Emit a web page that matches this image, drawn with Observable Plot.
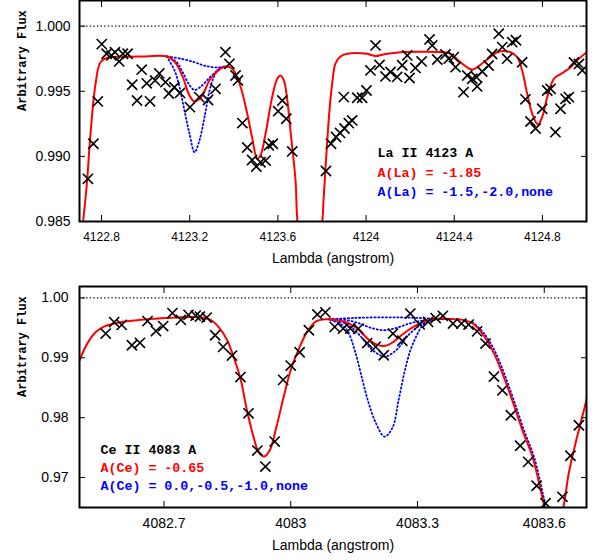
<!DOCTYPE html>
<html><head><meta charset="utf-8">
<script src="https://cdn.jsdelivr.net/npm/d3@7"></script>
<script src="https://cdn.jsdelivr.net/npm/@observablehq/plot@0.6"></script>
<style>
body{margin:0;background:#fff;}
#chart{width:599px;height:560px;}
#chart svg{display:block;}
</style></head><body><div id="chart"></div>
<script>
// ---------- Panel 1 : La II 4123 A ----------
const laTitle = "La II 4123 A";
const laFitLabel = "A(La) = -1.85";
const laTrialLabel = "A(La) = -1.5,-2.0,none";
const laXTicks = [4122.8, 4123.2, 4123.6, 4124.0, 4124.4, 4124.8];
const laYTicks = [0.985, 0.990, 0.995, 1.000];
const laObs = [
[4122.738,0.98828],[4122.763,0.99097],[4122.783,0.99422],[4122.801,0.99862],[4122.823,0.99788],[4122.845,0.99775],[4122.861,0.99800],[4122.880,0.99729],[4122.897,0.99788],[4122.918,0.99788],[4122.939,0.99550],[4122.961,0.99429],[4122.982,0.99666],[4123.005,0.99561],[4123.020,0.99423],[4123.043,0.99583],[4123.062,0.99637],[4123.090,0.99570],[4123.105,0.99483],[4123.130,0.99531],[4123.156,0.99487],[4123.201,0.99378],[4123.243,0.99455],[4123.283,0.99433],[4123.317,0.99519],[4123.362,0.99800],[4123.380,0.99711],[4123.408,0.99621],[4123.419,0.99583],[4123.439,0.99256],[4123.461,0.99068],[4123.483,0.98972],[4123.502,0.98922],[4123.521,0.98955],[4123.544,0.98968],[4123.559,0.99084],[4123.577,0.99097],[4123.601,0.99347],[4123.620,0.99429],[4123.638,0.99289],[4123.665,0.99038],[4123.818,0.98888],[4123.841,0.99097],[4123.864,0.99149],[4123.882,0.99180],[4123.902,0.99214],[4123.922,0.99255],[4123.937,0.99276],[4123.899,0.99455],[4123.960,0.99450],[4123.982,0.99450],[4124.002,0.99506],[4124.020,0.99660],[4124.043,0.99852],[4124.061,0.99702],[4124.088,0.99614],[4124.111,0.99648],[4124.141,0.99610],[4124.164,0.99700],[4124.187,0.99775],[4124.197,0.99602],[4124.224,0.99679],[4124.252,0.99729],[4124.288,0.99898],[4124.300,0.99852],[4124.323,0.99744],[4124.360,0.99783],[4124.375,0.99750],[4124.398,0.99762],[4124.406,0.99685],[4124.442,0.99493],[4124.459,0.99621],[4124.482,0.99596],[4124.501,0.99608],[4124.504,0.99537],[4124.527,0.99652],[4124.556,0.99698],[4124.572,0.99786],[4124.602,0.99942],[4124.618,0.99839],[4124.640,0.99750],[4124.663,0.99877],[4124.680,0.99892],[4124.708,0.99723],[4124.723,0.99438],[4124.746,0.99268],[4124.769,0.99214],[4124.799,0.99366],[4124.822,0.99506],[4124.837,0.99519],[4124.859,0.99186],[4124.882,0.99366],[4124.905,0.99442],[4124.920,0.99455],[4124.943,0.99721],[4124.966,0.99710],[4124.981,0.99660]
];
const laFit = [
[4122.700,0.98250],[4122.732,0.98763],[4122.750,0.99176],[4122.773,0.99560],[4122.795,0.99723],[4122.826,0.99757],[4122.900,0.99765],[4123.000,0.99767],[4123.098,0.99767],[4123.139,0.99711],[4123.169,0.99608],[4123.199,0.99468],[4123.222,0.99422],[4123.252,0.99455],[4123.294,0.99596],[4123.340,0.99673],[4123.362,0.99690],[4123.393,0.99673],[4123.415,0.99608],[4123.438,0.99493],[4123.461,0.99327],[4123.483,0.99147],[4123.506,0.98982],[4123.521,0.99007],[4123.544,0.99174],[4123.574,0.99455],[4123.597,0.99596],[4123.612,0.99621],[4123.627,0.99583],[4123.642,0.99442],[4123.657,0.99199],[4123.680,0.98815],[4123.689,0.98492],[4123.740,0.97800],[4123.801,0.98492],[4123.807,0.98661],[4123.821,0.99045],[4123.834,0.99353],[4123.848,0.99583],[4123.861,0.99713],[4123.884,0.99767],[4123.914,0.99788],[4124.005,0.99788],[4124.043,0.99770],[4124.080,0.99783],[4124.156,0.99800],[4124.368,0.99796],[4124.383,0.99788],[4124.428,0.99723],[4124.482,0.99667],[4124.534,0.99723],[4124.595,0.99800],[4124.655,0.99800],[4124.686,0.99762],[4124.708,0.99660],[4124.731,0.99481],[4124.754,0.99327],[4124.779,0.99245],[4124.799,0.99301],[4124.822,0.99455],[4124.852,0.99596],[4124.890,0.99639],[4124.928,0.99685],[4124.965,0.99750],[4125.000,0.99798]
];
const laHigh = [[4123.095,0.99767],[4123.131,0.99660],[4123.154,0.99531],[4123.176,0.99353],[4123.199,0.99174],[4123.222,0.99032],[4123.244,0.99122],[4123.267,0.99301],[4123.290,0.99506],[4123.309,0.99608],[4123.332,0.99673],[4123.355,0.99690]];
const laLow = [[4123.098,0.99767],[4123.140,0.99725],[4123.170,0.99640],[4123.200,0.99545],[4123.222,0.99510],[4123.250,0.99535],[4123.290,0.99605],[4123.330,0.99665],[4123.360,0.99690]];
const laNone = [[4123.098,0.99767],[4123.160,0.99750],[4123.220,0.99724],[4123.260,0.99700],[4123.290,0.99688],[4123.330,0.99683],[4123.360,0.99690]];

// ---------- Panel 2 : Ce II 4083 A ----------
const ceTitle = "Ce II 4083 A";
const ceFitLabel = "A(Ce) = -0.65";
const ceTrialLabel = "A(Ce) = 0.0,-0.5,-1.0,none";
const ceXTicks = [4082.7, 4083.0, 4083.3, 4083.6];
const ceYTicks = [0.97, 0.98, 0.99, 1.00];
const ceObs = [
[4082.562,0.99404],[4082.582,0.99596],[4082.600,0.99549],[4082.624,0.99209],[4082.643,0.99250],[4082.661,0.99613],[4082.681,0.99446],[4082.698,0.99529],[4082.720,0.99746],[4082.740,0.99633],[4082.758,0.99716],[4082.775,0.99704],[4082.785,0.99688],[4082.801,0.99671],[4082.821,0.99376],[4082.840,0.99182],[4082.861,0.99037],[4082.881,0.98678],[4082.900,0.98073],[4082.921,0.97451],[4082.940,0.97184],[4082.962,0.97601],[4082.982,0.98631],[4083.000,0.98870],[4083.021,0.99092],[4083.043,0.99459],[4083.063,0.99724],[4083.082,0.99758],[4083.104,0.99516],[4083.124,0.99487],[4083.141,0.99487],[4083.160,0.99487],[4083.181,0.99245],[4083.201,0.99182],[4083.220,0.99042],[4083.242,0.99404],[4083.264,0.99284],[4083.283,0.99738],[4083.305,0.99558],[4083.325,0.99599],[4083.343,0.99663],[4083.360,0.99701],[4083.384,0.99571],[4083.404,0.99571],[4083.421,0.99554],[4083.441,0.99441],[4083.461,0.99237],[4083.481,0.98686],[4083.501,0.98457],[4083.521,0.98040],[4083.543,0.97531],[4083.562,0.97262],[4083.582,0.96863],[4083.603,0.96571],[4083.643,0.96678],[4083.662,0.97364],[4083.682,0.97873]
];
const ceFit = [
[4082.500,0.98953],[4082.518,0.99232],[4082.538,0.99426],[4082.558,0.99521],[4082.597,0.99593],[4082.644,0.99633],[4082.692,0.99659],[4082.739,0.99676],[4082.786,0.99676],[4082.810,0.99633],[4082.830,0.99509],[4082.850,0.99287],[4082.865,0.99008],[4082.881,0.98653],[4082.897,0.98102],[4082.913,0.97651],[4082.924,0.97422],[4082.937,0.97351],[4082.950,0.97451],[4082.966,0.97843],[4082.984,0.98369],[4083.001,0.98820],[4083.021,0.99179],[4083.039,0.99437],[4083.059,0.99604],[4083.082,0.99643],[4083.106,0.99633],[4083.134,0.99588],[4083.161,0.99466],[4083.185,0.99299],[4083.205,0.99215],[4083.224,0.99199],[4083.244,0.99270],[4083.268,0.99409],[4083.295,0.99537],[4083.319,0.99616],[4083.343,0.99649],[4083.374,0.99649],[4083.406,0.99633],[4083.430,0.99576],[4083.453,0.99409],[4083.477,0.99132],[4083.501,0.98741],[4083.524,0.98297],[4083.548,0.97796],[4083.572,0.97351],[4083.595,0.96683],[4083.603,0.96449],[4083.624,0.96000],[4083.645,0.96500],[4083.658,0.97072],[4083.674,0.97573],[4083.690,0.98018],[4083.702,0.98352]
];
const ce00 = [[4083.094,0.99633],[4083.118,0.99563],[4083.134,0.99454],[4083.153,0.99087],[4083.170,0.98619],[4083.184,0.98252],[4083.201,0.97918],[4083.222,0.97684],[4083.241,0.97835],[4083.255,0.98285],[4083.269,0.98753],[4083.283,0.99120],[4083.298,0.99371],[4083.312,0.99537],[4083.331,0.99621],[4083.354,0.99649]];
const ce05 = [[4083.090,0.99650],[4083.130,0.99570],[4083.160,0.99400],[4083.190,0.99150],[4083.222,0.99020],[4083.250,0.99130],[4083.280,0.99390],[4083.310,0.99560],[4083.340,0.99640],[4083.370,0.99650]];
const ce10 = [[4083.090,0.99650],[4083.130,0.99630],[4083.160,0.99580],[4083.190,0.99500],[4083.222,0.99460],[4083.250,0.99500],[4083.280,0.99570],[4083.310,0.99620],[4083.340,0.99645],[4083.370,0.99650]];
const ceNone = [[4083.090,0.99640],[4083.150,0.99665],[4083.220,0.99675],[4083.280,0.99670],[4083.340,0.99655],[4083.374,0.99649]];
const ceWing = [[4083.430,0.99595],[4083.456,0.99420],[4083.481,0.99140],[4083.505,0.98740],[4083.528,0.98290],[4083.552,0.97790],[4083.576,0.97340],[4083.598,0.96690],[4083.606,0.96450]];

const yLabel = "Arbitrary Flux";
const xLabel = "Lambda (angstrom)";

const RED = "#ff0000", BLUE = "#0000ff";
const fmtX = d => String(+d.toFixed(1));

function legendMarks(items, dx, dys) {
  return items.map((d, i) => Plot.text([d.t], {text: v => v, fill: d.c, frameAnchor: "top-left", textAnchor: "start", lineAnchor: "middle", dx, dy: dys[i], fontFamily: "'Liberation Mono', monospace", fontSize: 13.3, fontWeight: "bold"}));
}

function build(o) {
  const px = {x: d => d[0], y: d => d[1]};
  return Plot.plot({
    width: 599, height: o.height,
    marginLeft: 79, marginRight: 13, marginTop: o.mt, marginBottom: o.mb,
    style: {fontFamily: "'Liberation Sans', Arial, sans-serif", background: "white", color: "black", overflow: "visible"},
    x: {domain: o.xDomain},
    y: {domain: o.yDomain},
    marks: [
      Plot.ruleY([1], {stroke: "black", strokeWidth: 1.3, strokeDasharray: "1.3,2.3"}),
      ...o.blue.map(c => Plot.line(c, {...px, stroke: BLUE, strokeWidth: 1.8, strokeDasharray: "1.2,2.6", curve: "catmull-rom", clip: true})),
      Plot.line(o.fit, {...px, stroke: RED, strokeWidth: 2, curve: "catmull-rom", clip: true}),
      Plot.dot(o.obs, {...px, symbol: "times", r: 4.7, stroke: "black", strokeWidth: 1.6, clip: true}),
      Plot.axisX(o.xTicks, {anchor: "bottom", tickSize: -6, tickPadding: 17, tickFormat: fmtX, label: null, fontSize: o.xFont}),
      Plot.axisX(o.xTicks, {anchor: "top", tickSize: -6, tickFormat: () => "", label: null}),
      Plot.axisY(o.yTicks, {anchor: "left", tickSize: -6, tickPadding: o.yPad, tickFormat: o.yFmt, label: null, fontSize: 14}),
      Plot.axisY(o.yTicks, {anchor: "right", tickSize: -6, tickFormat: () => "", label: null}),
      Plot.frame({stroke: "black", strokeWidth: 2}),
      Plot.text([yLabel], {text: d => d, frameAnchor: "left", dx: -57, rotate: -90, fontFamily: "'Liberation Mono', monospace", fontSize: 12, fontWeight: "bold"}),
      Plot.text([xLabel], {text: d => d, frameAnchor: "bottom", dy: o.xLabelDy, lineAnchor: "middle", fontSize: 14}),
      ...legendMarks(o.legend, o.legDx, o.legDy)
    ]
  });
}

const top1 = build({
  height: 275, mt: 0, mb: 54,
  xDomain: [4122.7, 4125.0], yDomain: [0.985, 1.00197],
  xTicks: laXTicks, yTicks: laYTicks, yFmt: d3.format(".3f"), yPad: 15, xFont: 12, xLabelDy: 37,
  obs: laObs, fit: laFit, blue: [laHigh, laLow, laNone],
  legend: [{t: laTitle, c: "black"}, {t: laFitLabel, c: RED}, {t: laTrialLabel, c: BLUE}],
  legDx: 298, legDy: [152, 172, 191]
});
const bot = build({
  height: 285, mt: 11, mb: 53,
  xDomain: [4082.5, 4083.7], yDomain: [0.965, 1.0019],
  xTicks: ceXTicks, yTicks: ceYTicks, yFmt: d3.format(".2f"), yPad: 17, xFont: 14, xLabelDy: 38,
  obs: ceObs, fit: ceFit, blue: [ce00, ce05, ce10, ceNone, ceWing],
  legend: [{t: ceTitle, c: "black"}, {t: ceFitLabel, c: RED}, {t: ceTrialLabel, c: BLUE}],
  legDx: 21, legDy: [163, 181, 199]
});
const root = document.getElementById("chart");
root.appendChild(top1);
root.appendChild(bot);
</script>
</body></html>
